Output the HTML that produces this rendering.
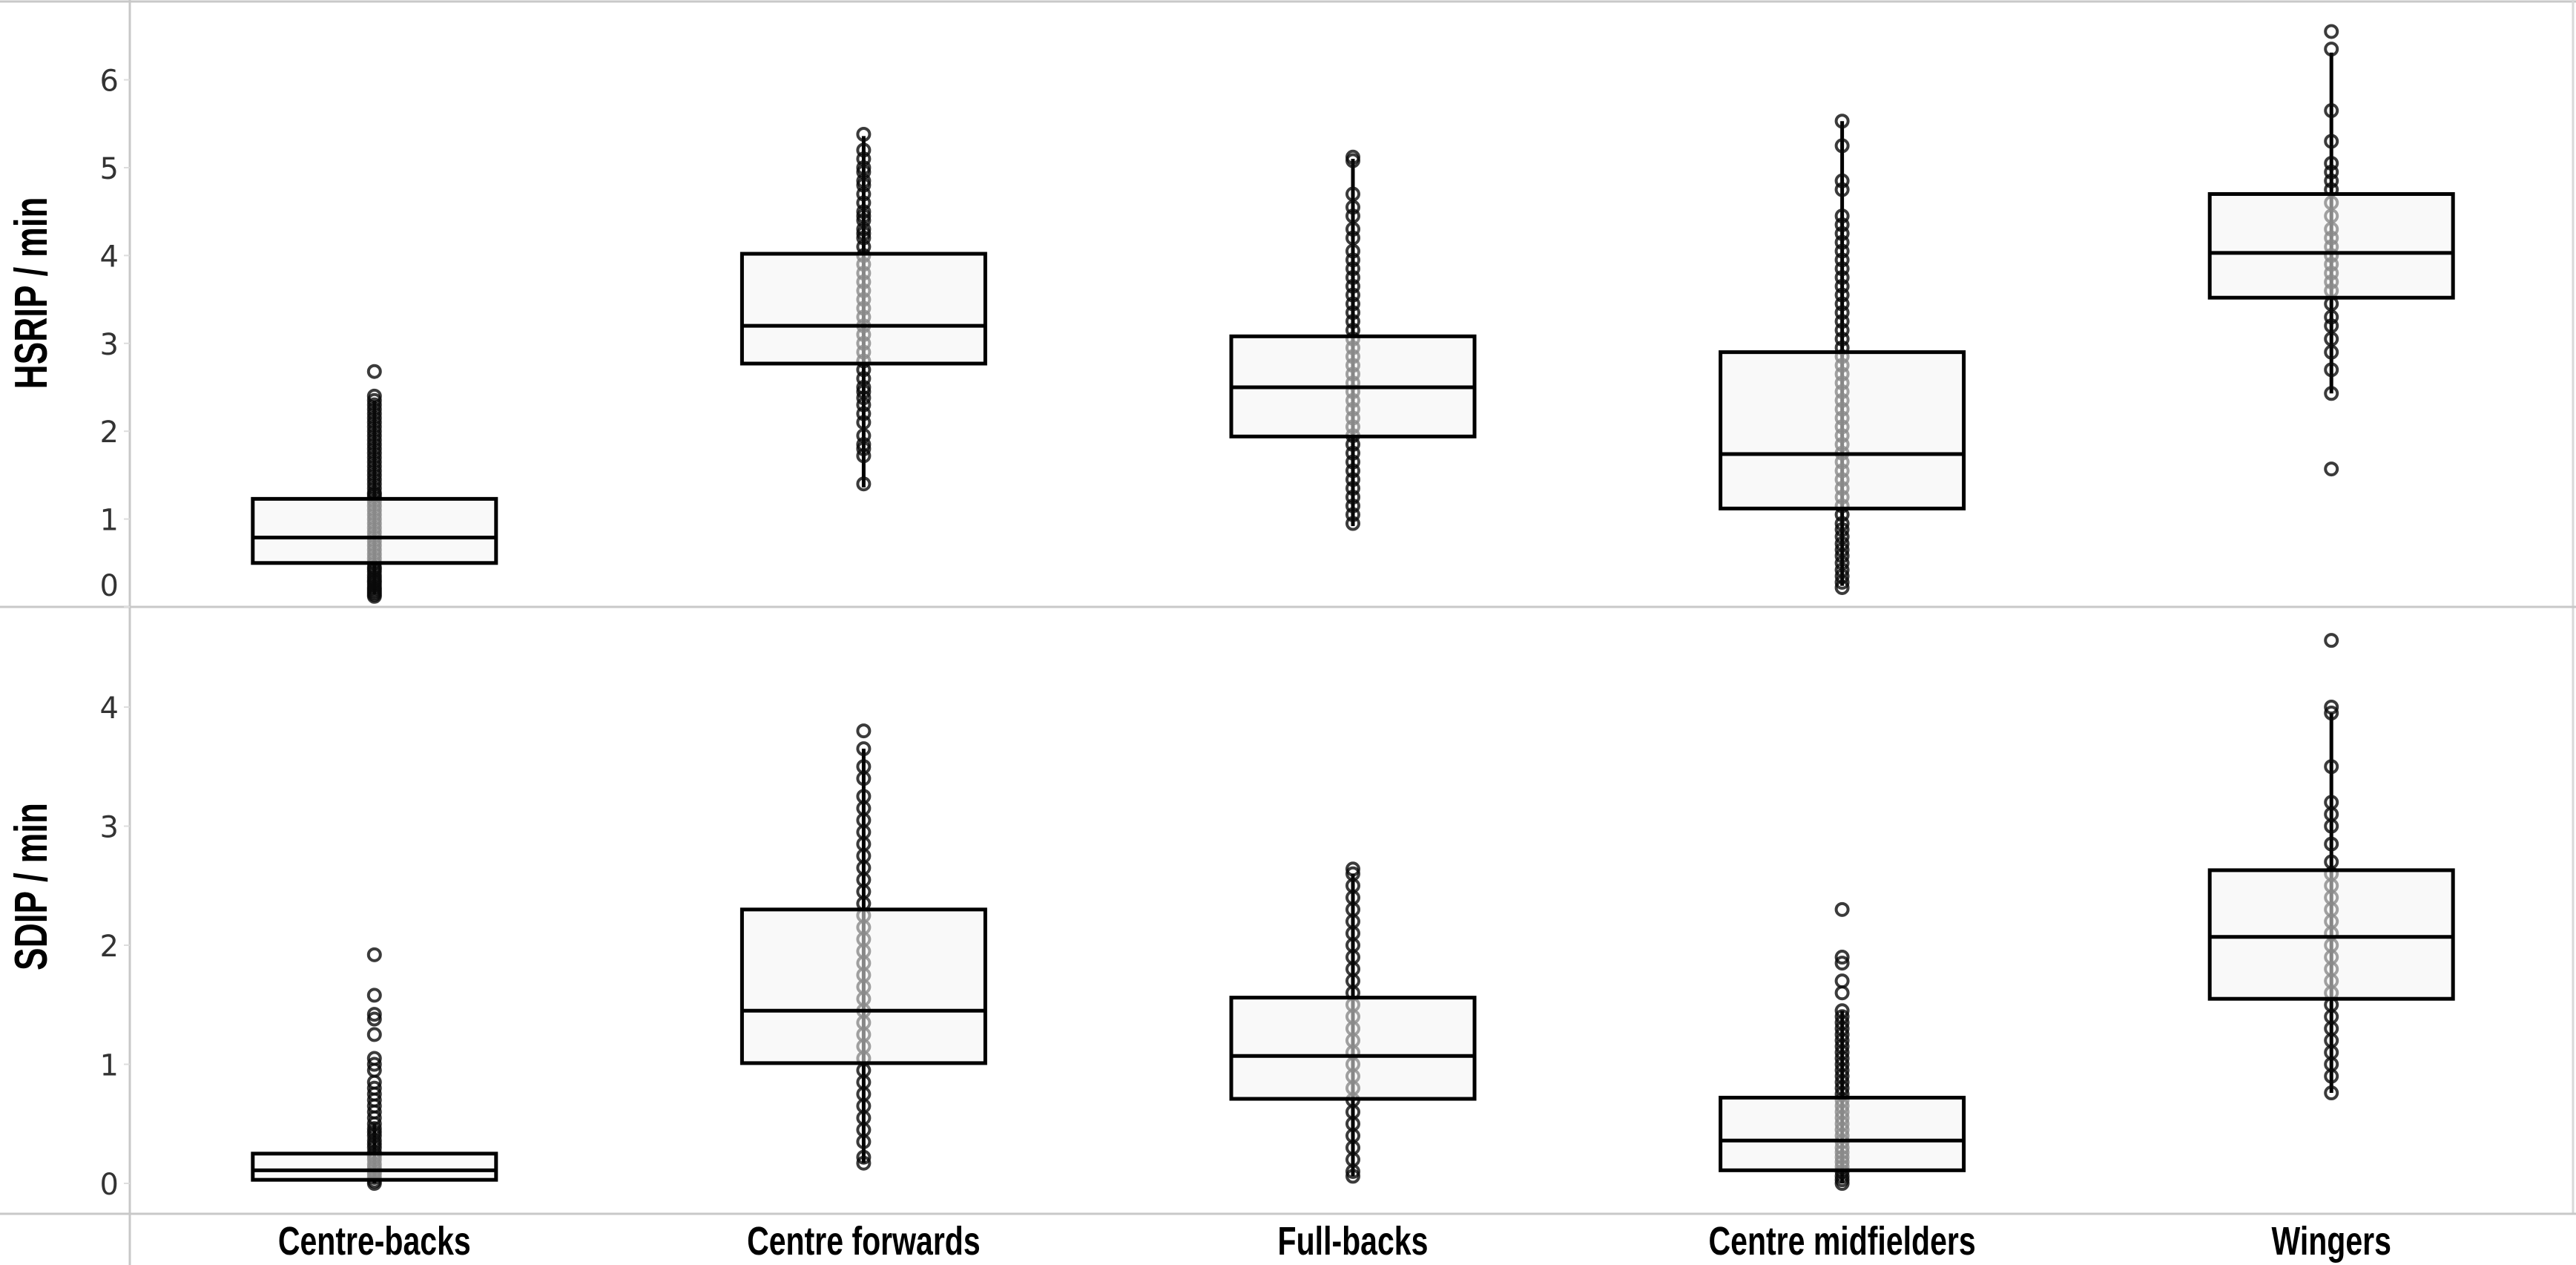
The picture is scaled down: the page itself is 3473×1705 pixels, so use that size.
<!DOCTYPE html>
<html><head><meta charset="utf-8"><style>
html,body{margin:0;padding:0;background:#fff;}
svg{display:block;}
</style></head><body>
<svg id="chart" width="3473" height="1705" viewBox="0 0 3473 1705" xmlns="http://www.w3.org/2000/svg"></svg>
<script>
const categories = ["Centre-backs","Centre forwards","Full-backs","Centre midfielders","Wingers"];
// HSRIP / min (top panel)
const hsQ1  = [0.50, 2.77, 1.94, 1.12, 3.52];
const hsMed = [0.79, 3.20, 2.50, 1.74, 4.03];
const hsQ3  = [1.23, 4.02, 3.08, 2.90, 4.70];
const hsLo  = [0.14, 1.36, 0.92, 0.24, 2.43];
const hsHi  = [2.35, 5.36, 5.10, 5.53, 6.31];
const hsPts = [
 [0.12,0.14,0.16,0.18,0.2,0.22,0.25,0.28,0.3,0.33,0.36,0.4,0.43,0.45,0.5,0.55,0.6,0.65,0.7,0.75,0.8,0.85,0.9,0.95,1.0,1.05,1.1,1.15,1.2,1.25,1.28,1.3,1.35,1.4,1.45,1.5,1.55,1.6,1.65,1.7,1.75,1.8,1.85,1.9,1.95,2.0,2.05,2.1,2.15,2.2,2.25,2.3,2.35,2.4,2.68],
 [1.4,1.72,1.8,1.85,1.95,2.1,2.2,2.3,2.38,2.45,2.5,2.6,2.7,2.8,2.9,3.0,3.1,3.2,3.3,3.4,3.5,3.6,3.7,3.8,3.9,4.0,4.1,4.2,4.25,4.3,4.4,4.45,4.5,4.6,4.7,4.8,4.85,4.95,5.0,5.1,5.2,5.38],
 [0.95,1.05,1.15,1.25,1.35,1.45,1.55,1.65,1.75,1.85,1.95,2.05,2.15,2.25,2.35,2.45,2.55,2.65,2.75,2.85,2.95,3.05,3.15,3.25,3.35,3.45,3.55,3.65,3.75,3.85,3.95,4.05,4.2,4.3,4.45,4.55,4.7,5.08,5.12],
 [0.22,0.28,0.35,0.42,0.5,0.58,0.65,0.72,0.8,0.88,0.95,1.05,1.15,1.25,1.35,1.45,1.55,1.65,1.75,1.85,1.95,2.05,2.15,2.25,2.35,2.45,2.55,2.65,2.75,2.85,2.95,3.05,3.15,3.25,3.35,3.45,3.55,3.65,3.75,3.85,3.95,4.05,4.15,4.25,4.35,4.45,4.75,4.85,5.25,5.53],
 [1.57,2.43,2.7,2.9,3.05,3.2,3.3,3.45,3.6,3.7,3.8,3.9,4.0,4.1,4.2,4.3,4.45,4.6,4.75,4.85,4.95,5.05,5.3,5.65,6.35,6.55]
];
// SDIP / min (bottom panel)
const sdQ1  = [0.03, 1.01, 0.71, 0.11, 1.55];
const sdMed = [0.11, 1.45, 1.07, 0.36, 2.07];
const sdQ3  = [0.25, 2.30, 1.56, 0.72, 2.63];
const sdLo  = [0.00, 0.17, 0.06, 0.00, 0.76];
const sdHi  = [0.50, 3.65, 2.60, 1.45, 3.95];
const sdPts = [
 [0.0,0.02,0.05,0.08,0.1,0.13,0.16,0.2,0.23,0.26,0.3,0.33,0.36,0.4,0.43,0.46,0.5,0.55,0.6,0.65,0.7,0.75,0.8,0.85,0.95,1.0,1.05,1.25,1.38,1.42,1.58,1.92],
 [0.17,0.22,0.35,0.45,0.55,0.65,0.75,0.85,0.95,1.05,1.15,1.25,1.35,1.45,1.55,1.65,1.75,1.85,1.95,2.05,2.15,2.25,2.35,2.45,2.55,2.65,2.75,2.85,2.95,3.05,3.15,3.25,3.4,3.5,3.65,3.8],
 [0.06,0.1,0.2,0.3,0.4,0.5,0.6,0.7,0.8,0.9,1.0,1.1,1.2,1.3,1.4,1.5,1.6,1.7,1.8,1.9,2.0,2.1,2.2,2.3,2.4,2.5,2.6,2.64],
 [0.0,0.03,0.06,0.1,0.14,0.18,0.22,0.26,0.3,0.35,0.4,0.45,0.5,0.55,0.6,0.65,0.7,0.75,0.8,0.85,0.9,0.95,1.0,1.05,1.1,1.15,1.2,1.25,1.3,1.35,1.4,1.45,1.6,1.7,1.85,1.9,2.3],
 [0.76,0.9,1.0,1.1,1.2,1.3,1.4,1.5,1.6,1.7,1.8,1.9,2.0,2.1,2.2,2.3,2.4,2.5,2.6,2.7,2.85,3.0,3.1,3.2,3.5,3.95,4.0,4.56]
];
const hsTicks = [0,1,2,3,4,5,6];
const sdTicks = [0,1,2,3,4];

const NS = "http://www.w3.org/2000/svg";
const svg = document.getElementById("chart");
const X0 = 175, BAND = 659.6;
function xCenter(i){ return X0 + BAND*(i+0.5); }
function yTop(v){ return 818 - v*118.4; }
function yBot(v){ return 1595 - v*160.5; }
function mk(tag, attrs){ const e=document.createElementNS(NS,tag); for(const k in attrs) e.setAttribute(k,attrs[k]); svg.appendChild(e); return e; }

let l;
l = mk("line",{x1:0,y1:2,x2:3473,y2:2,stroke:"#c8c8c8","stroke-width":3});
 
l = mk("line",{x1:X0,y1:0,x2:X0,y2:1705,stroke:"#c8c8c8","stroke-width":3});
 
l = mk("line",{x1:3469,y1:0,x2:3469,y2:1636,stroke:"#d8d8d8","stroke-width":3});
 
l = mk("line",{x1:0,y1:818,x2:3473,y2:818,stroke:"#c8c8c8","stroke-width":3});
 
l = mk("line",{x1:0,y1:1636,x2:3473,y2:1636,stroke:"#c8c8c8","stroke-width":3});
 

function ticks(arr, yf, name){
  arr.forEach(v=>{
    const y = (name==='hs' && v===0) ? yf(0)-30 : yf(v);
    const t = mk("line",{x1:X0-8,y1:yf(v),x2:X0,y2:yf(v),stroke:"#ddd","stroke-width":2});
    
    
    const tx = mk("text",{x:160,y:y+15,"text-anchor":"end","font-family":"DejaVu Sans, sans-serif","font-size":40,fill:"#333"});
    tx.textContent = v;
    
    
  });
}
ticks(hsTicks, yTop, 'hs');
ticks(sdTicks, yBot, 'sd');

function panel(q1,med,q3,lo,hi,pts,yf,prefix){
  for(let i=0;i<categories.length;i++){
    const cx = xCenter(i);
    const w = mk("line",{x1:cx,y1:yf(lo[i]),x2:cx,y2:yf(hi[i]),stroke:"#000","stroke-width":5});
    
    
    pts[i].forEach(v=>{
      const c = mk("circle",{cx:cx,cy:yf(v),r:8,fill:"none",stroke:"rgba(10,10,10,0.8)","stroke-width":4});
      
      
    });
    const b = mk("rect",{x:cx-164,y:yf(q3[i]),width:328,height:yf(q1[i])-yf(q3[i]),fill:"rgba(244,244,244,0.55)",stroke:"#000","stroke-width":5});
    
    
    const m = mk("line",{x1:cx-164,y1:yf(med[i]),x2:cx+164,y2:yf(med[i]),stroke:"#000","stroke-width":5});
    
    
  }
}
panel(hsQ1,hsMed,hsQ3,hsLo,hsHi,hsPts,yTop,'hsrip');
panel(sdQ1,sdMed,sdQ3,sdLo,sdHi,sdPts,yBot,'sdip');

categories.forEach((c,i)=>{
  const t = mk("text",{x:xCenter(i),y:1691,"text-anchor":"middle","font-family":"Liberation Sans, sans-serif","font-weight":"bold","font-size":54,fill:"#000",transform:`translate(${xCenter(i)},0) scale(0.76,1) translate(${-xCenter(i)},0)`});
  t.textContent = c;
  
  
});

let yt = mk("text",{x:0,y:0,"text-anchor":"middle","font-family":"Liberation Sans, sans-serif","font-weight":"bold","font-size":62,fill:"#000",transform:"translate(63,395) rotate(-90) scale(0.74,1)"});
yt.textContent = "HSRIP / min";


yt = mk("text",{x:0,y:0,"text-anchor":"middle","font-family":"Liberation Sans, sans-serif","font-weight":"bold","font-size":62,fill:"#000",transform:"translate(63,1195) rotate(-90) scale(0.74,1)"});
yt.textContent = "SDIP / min";


</script>
</body></html>
